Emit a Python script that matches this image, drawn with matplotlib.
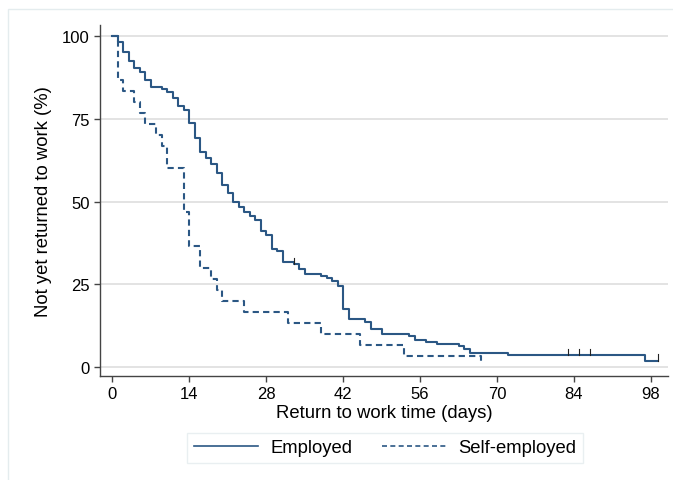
import matplotlib
matplotlib.use("Agg")
import matplotlib.pyplot as plt
from matplotlib.patches import Rectangle
from matplotlib.lines import Line2D

# Kaplan-Meier steps (day, % not yet returned)
emp_days = [0, 1, 2, 3, 4, 5, 6, 7, 9, 10, 11, 12, 13, 14, 15, 16, 17, 18, 19, 20,
            21, 22, 23, 24, 25, 26, 27, 28, 29, 30, 31, 33, 34, 35, 38, 39, 40, 41,
            42, 43, 46, 47, 49, 54, 55, 57, 59, 63, 64, 65, 72, 97, 99.2]
emp_surv = [100, 98.3, 95.1, 92.5, 90.2, 89.0, 86.8, 84.5, 84.0, 83.0, 81.3, 78.8,
            77.7, 73.7, 69.1, 65.0, 63.0, 61.3, 58.6, 55.1, 52.6, 49.9, 48.2, 46.7,
            45.7, 44.5, 41.2, 39.9, 35.6, 35.1, 31.8, 31.1, 29.6, 28.1, 27.6, 26.9,
            25.9, 24.6, 17.5, 14.5, 13.5, 11.5, 10.0, 9.3, 8.3, 7.5, 6.9, 6.3, 5.6,
            4.2, 3.6, 1.9, 1.9]
emp_censor_days = [33, 83, 85, 87, 99.2]
emp_censor_surv = [31.1, 3.6, 3.6, 3.6, 1.9]

self_days = [0, 1, 2, 4, 5, 6, 8, 9, 10, 13, 14, 16, 18, 19, 20, 24, 32, 38, 45, 53, 67]
self_surv = [100, 86.7, 83.3, 80.0, 76.7, 73.3, 70.0, 66.7, 60.0, 46.7, 36.7, 30.0,
             26.7, 23.3, 20.0, 16.7, 13.3, 10.0, 6.7, 3.3, 1.5]

xticks = [0, 14, 28, 42, 56, 70, 84, 98]
yticks = [0, 25, 50, 75, 100]

navy = "#2b5784"
plt.rcParams["font.family"] = ["Liberation Sans", "DejaVu Sans"]

fig = plt.figure(figsize=(6.73, 4.81), dpi=100)
ax = fig.add_axes([0.1486, 0.2162, 0.8440, 0.7297])

# faint outer graph region frame
fig.patches.append(Rectangle((8 / 673, -0.1), 1.2, 1.1 - 10 / 481, transform=fig.transFigure,
                             fill=False, edgecolor="#e4ecee", lw=1.0))

ax.step(emp_days, emp_surv, where="post", color=navy, lw=1.5)
ax.step(self_days, self_surv, where="post", color=navy, lw=1.5, linestyle=(0, (3, 2)))
for d, s in zip(emp_censor_days, emp_censor_surv):
    ax.plot([d, d], [s, s + 1.9], color="#222222", lw=0.8)

ax.set_xlim(-2.2, 101.1)
ax.set_ylim(-2.7, 103.3)
ax.set_xticks(xticks)
ax.set_yticks(yticks)
ax.grid(axis="y", color="#e3e3e3", lw=1.4)
ax.set_axisbelow(True)
for side in ["top", "right"]:
    ax.spines[side].set_visible(False)
for side in ["left", "bottom"]:
    ax.spines[side].set_color("#444444")
    ax.spines[side].set_linewidth(1.0)
ax.tick_params(length=4.5, width=1.0, color="#444444", labelsize=12, pad=3)

ax.set_xlabel("Return to work time (days)", fontsize=13.3, labelpad=2)
ax.set_ylabel("Not yet returned to work (%)", fontsize=13.3, labelpad=7)

h1 = Line2D([0], [0], color=navy, lw=1.2)
h2 = Line2D([0], [0], color=navy, lw=1.2, linestyle=(0, (3, 2)))
fig.legend([h1, h2], ["Employed", "Self-employed"], ncol=2, fontsize=13.3,
           loc="center", bbox_to_anchor=(385 / 673, 1 - 449 / 481),
           frameon=True, fancybox=False, edgecolor="#e4ecee", handlelength=3.5,
           columnspacing=1.6, handletextpad=0.65, borderpad=0.35, borderaxespad=0)

fig.savefig("out.png", dpi=100)
